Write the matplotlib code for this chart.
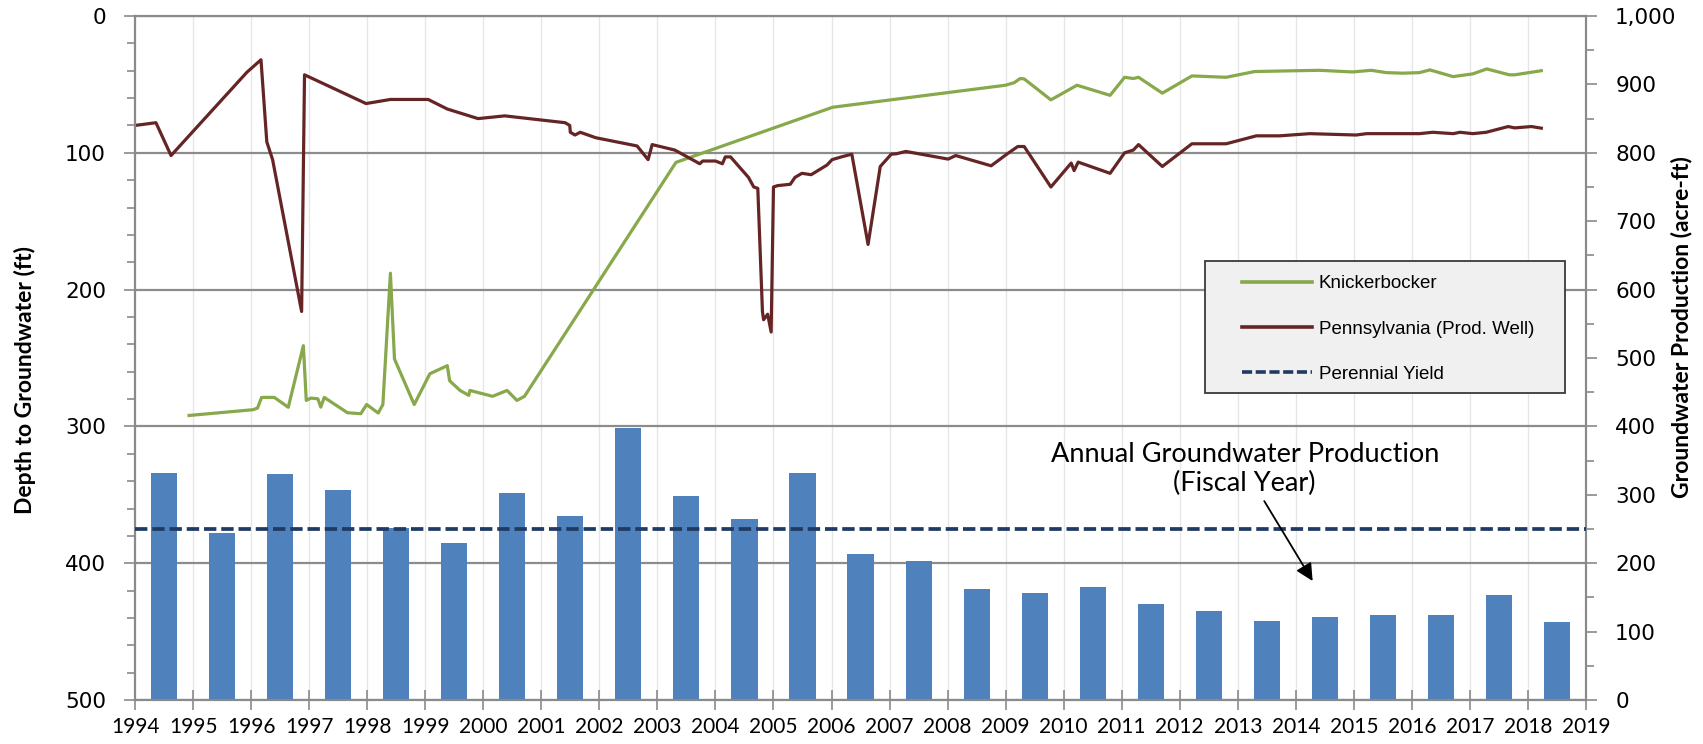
import matplotlib
matplotlib.use('Agg')
import matplotlib.pyplot as plt
from matplotlib.patches import Rectangle
from matplotlib.lines import Line2D
from matplotlib.ticker import MultipleLocator, FuncFormatter

# ---------------- data ----------------
bar_years = list(range(1994, 2019))
production = [332, 244, 331, 307, 252, 230, 302, 269, 397, 298, 264, 332, 214,
              203, 162, 156, 165, 140, 130, 116, 121, 125, 124, 153, 114]
perennial_yield = 250

penn_x = [1994.00, 1994.36, 1994.62, 1995.93, 1996.17, 1996.27, 1996.37, 1996.87, 1996.92,
          1997.98, 1998.40, 1999.05, 1999.38, 1999.91, 2000.37, 2001.41, 2001.49, 2001.50,
          2001.58, 2001.67, 2001.94, 2002.65, 2002.84, 2002.91, 2003.30, 2003.73, 2003.78,
          2004.00, 2004.12, 2004.17, 2004.26, 2004.57, 2004.66, 2004.73, 2004.81, 2004.83,
          2004.90, 2004.96, 2005.00, 2005.07, 2005.29, 2005.37, 2005.49, 2005.65, 2005.92,
          2006.01, 2006.17, 2006.35, 2006.63, 2006.84, 2007.03, 2007.12, 2007.28, 2008.01,
          2008.14, 2008.75, 2009.03, 2009.21, 2009.32, 2009.78, 2010.13, 2010.18, 2010.25,
          2010.80, 2011.05, 2011.20, 2011.29, 2011.70, 2012.21, 2012.80, 2013.32, 2013.72,
          2014.24, 2015.04, 2015.22, 2016.13, 2016.36, 2016.71, 2016.83, 2017.05, 2017.28,
          2017.66, 2017.77, 2018.06, 2018.23]
penn_y = [80, 78, 102, 41, 32, 92, 105, 216, 43,
          64, 61, 61, 68, 75, 73, 78, 80, 85,
          87, 85, 89, 95, 105, 94, 98, 108, 106,
          106, 108, 103, 103, 118, 125, 126, 216, 222,
          218, 231, 125, 124, 123, 118, 115, 116, 109,
          105, 103, 101, 167, 110, 101, 100.7, 99, 104.6,
          102, 109.5, 100.7, 95.4, 95.4, 125, 107.5, 113, 106.8,
          115, 100, 98, 94, 110, 93.4, 93.4, 87.6, 87.6,
          86, 87, 86, 86, 85, 86, 85, 86, 85,
          80.8, 81.8, 80.8, 82]

knick_x = [1994.93, 1996.03, 1996.11, 1996.18, 1996.40, 1996.64, 1996.90, 1996.95, 1997.03,
           1997.15, 1997.20, 1997.26, 1997.66, 1997.89, 1997.99, 1998.19, 1998.27, 1998.40,
           1998.47, 1998.81, 1999.08, 1999.38, 1999.42, 1999.60, 1999.75, 1999.77, 2000.16,
           2000.41, 2000.58, 2000.71, 2003.32, 2006.02, 2009.00, 2009.15, 2009.25, 2009.32,
           2009.78, 2010.23, 2010.80, 2011.05, 2011.20, 2011.29, 2011.70, 2012.21, 2012.80,
           2013.29, 2014.01, 2014.41, 2014.98, 2015.30, 2015.56, 2015.84, 2016.13, 2016.31,
           2016.71, 2017.05, 2017.29, 2017.68, 2017.77, 2018.23]
knick_y = [292, 287.8, 286.6, 278.8, 278.8, 286, 241, 281, 279.3,
           279.8, 285.9, 278.8, 290, 290.7, 284, 290.2, 284, 188,
           250.7, 284, 261.5, 255.6, 266.6, 273.7, 277.3, 273.7, 278,
           273.7, 281, 278, 107, 66.7, 50.6, 48.7, 45.7, 46,
           61.3, 50.6, 58, 44.8, 45.7, 44.8, 56.4, 43.8, 44.8,
           40.6, 40, 39.7, 40.9, 39.7, 41.4, 41.8, 41.4, 39.4,
           44.3, 42.3, 38.7, 43, 43, 40]

year_ticks = list(range(1994, 2020))
series_labels = ['Knickerbocker', 'Pennsylvania (Prod. Well)', 'Perennial Yield']

# ---------------- styles ----------------
GREEN = '#87A84B'
RED = '#652525'
BAR = '#4F81BD'
NAVY = '#1F3B63'
AXC = '#8A8A8A'

fig = plt.figure(figsize=(17.03, 7.44), dpi=100)
ax1 = fig.add_axes([0.0793, 0.0591, 0.852, 0.9194])
ax2 = ax1.twinx()

# left axis (depth)
ax1.set_xlim(year_ticks[0], year_ticks[-1])
ax1.set_ylim(500, 0)
ax1.set_xticks(year_ticks)
ax1.set_xticklabels([str(y) for y in year_ticks], fontfamily='Lato', fontsize=15)
ax1.yaxis.set_major_locator(MultipleLocator(100))
ax1.yaxis.set_minor_locator(MultipleLocator(20))
ax1.set_axisbelow(True)
ax1.grid(axis='x', which='major', color='#E6E6E6', lw=1.0)
ax1.grid(axis='y', which='major', color='#8C8C8C', lw=1.6)
ax1.tick_params(axis='x', direction='inout', length=14, width=1.2, color=AXC, pad=5)
ax1.tick_params(axis='y', which='major', direction='out', length=8, width=1.2, color=AXC,
                pad=13, labelsize=15.5)
ax1.tick_params(axis='y', which='minor', direction='out', length=6, width=1.2, color=AXC)
for sp in ax1.spines.values():
    sp.set_color(AXC)
    sp.set_linewidth(1.5)

ax1.plot(knick_x, knick_y, color=GREEN, lw=2.3, solid_joinstyle='round')
ax1.plot(penn_x, penn_y, color=RED, lw=2.3, solid_joinstyle='round')

# right axis (production)
ax2.set_ylim(0, 1000)
ax2.yaxis.set_major_locator(MultipleLocator(100))
ax2.yaxis.set_minor_locator(MultipleLocator(50))
ax2.yaxis.set_major_formatter(FuncFormatter(lambda v, p: f'{int(v):,}'))
ax2.tick_params(axis='y', which='major', direction='out', length=8, width=1.2, color=AXC,
                pad=13, labelsize=15.5)
ax2.tick_params(axis='y', which='minor', direction='out', length=6, width=1.2, color=AXC)
for sp in ax2.spines.values():
    sp.set_color(AXC)
    sp.set_linewidth(1.5)

ax2.bar([y + 0.5 for y in bar_years], production, width=0.45, color=BAR, zorder=2)
ax2.axhline(perennial_yield, color=NAVY, lw=2.7, linestyle=(0, (3.3, 1.3)), zorder=3)

ax1.set_ylabel('Depth to Groundwater (ft)', fontsize=16.5, fontweight='bold', family='Lato')
ax1.yaxis.set_label_coords(-0.0684, 0.468)
ax2.set_ylabel('Groundwater Production (acre-ft)', fontsize=16.5, fontweight='bold', family='Lato')
ax2.yaxis.set_label_coords(1.0586, 0.545)

# annotation
ax2.annotate('Annual Groundwater Production\n(Fiscal Year)',
             xy=(2014.29, 413), xycoords=ax1.transData,
             xytext=(2013.12, 331), textcoords=ax1.transData,
             ha='center', va='center', fontsize=19.5, family='Lato', linespacing=1.2,
             arrowprops=dict(arrowstyle='-|>', color='black', lw=1.3, mutation_scale=26,
                             shrinkA=2, shrinkB=0), zorder=6)

# legend
rect = Rectangle((0.7076, 0.4718), 0.2114, 0.1774, transform=fig.transFigure,
                 facecolor='#F0F0F0', edgecolor='#3A3A3A', lw=1.3, zorder=4)
fig.add_artist(rect)
handles = [Line2D([], [], color=GREEN, lw=2.6),
           Line2D([], [], color=RED, lw=2.6),
           Line2D([], [], color=NAVY, lw=2.6, linestyle=(0, (2.8, 1.0)))]
fig.legend(handles, series_labels, loc='center left', bbox_to_anchor=(0.7291, 0.5578),
           bbox_transform=fig.transFigure, frameon=False,
           prop={'family': 'Liberation Sans', 'size': 13.5}, handlelength=3.75,
           handletextpad=0.35, labelspacing=1.5, borderpad=0, borderaxespad=0)

fig.savefig('out.png', dpi=100)
